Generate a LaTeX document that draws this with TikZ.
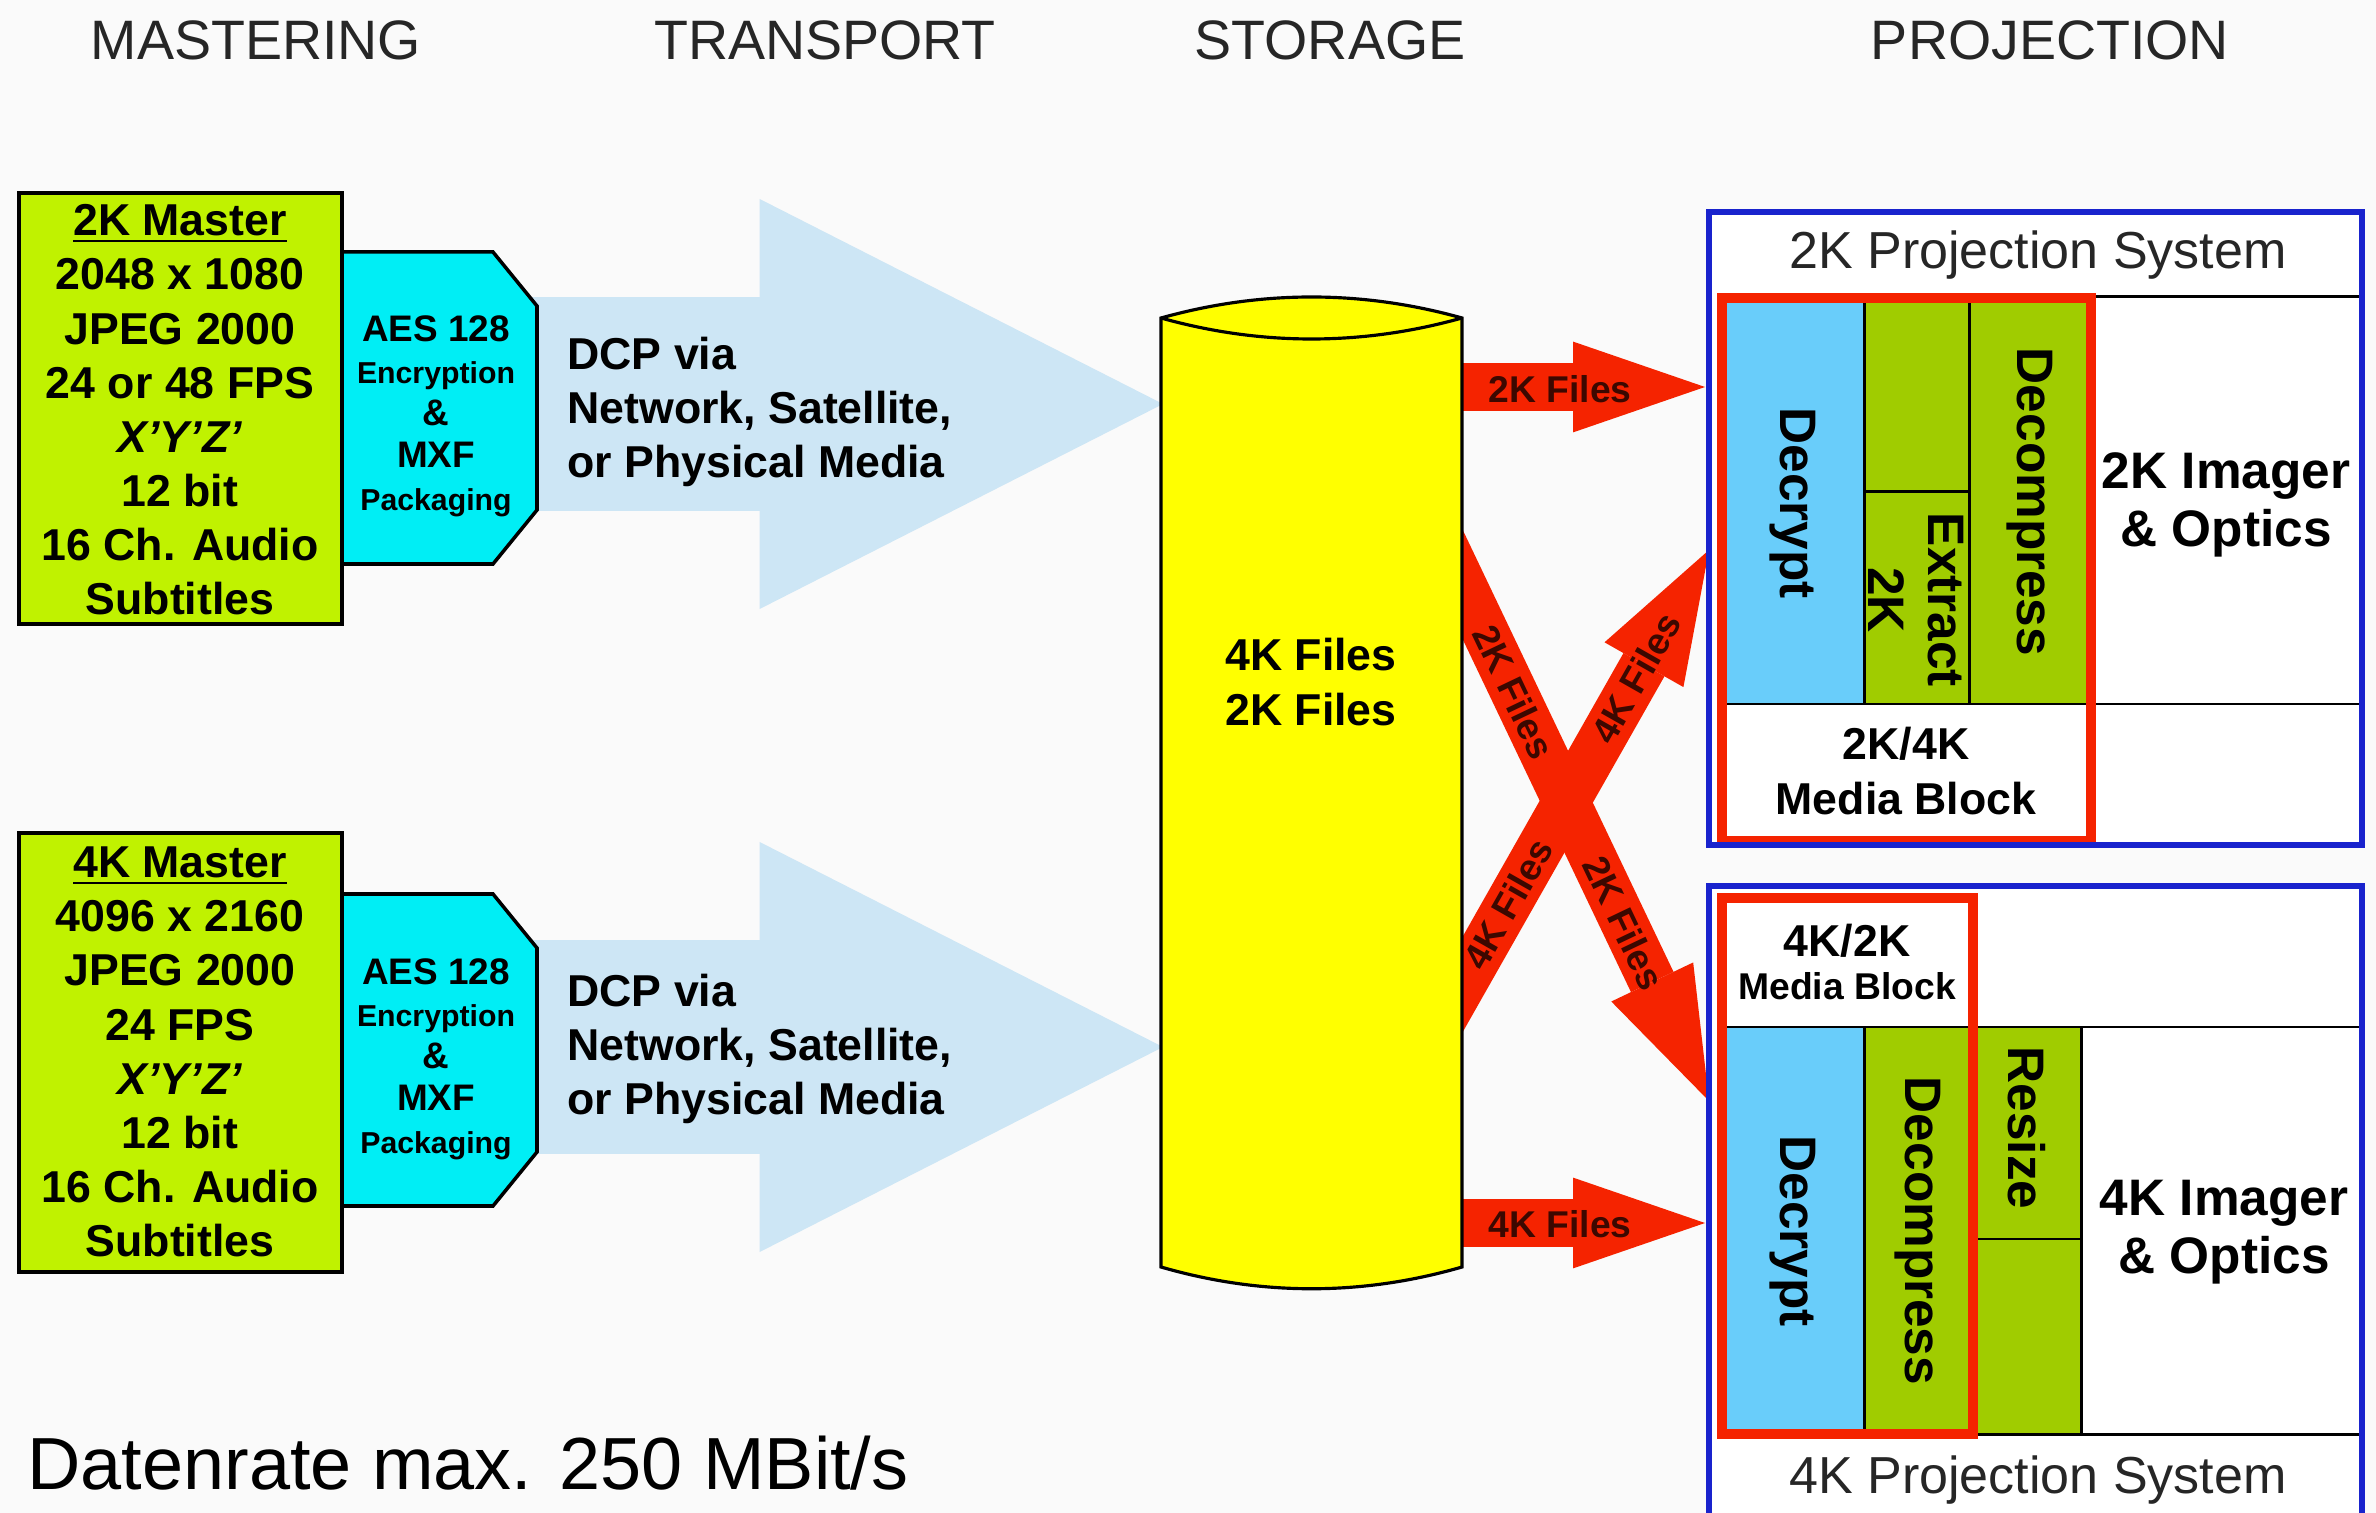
\documentclass[tikz,border=0pt]{standalone}
\usepackage{fontspec}
\setmainfont{Liberation Sans}
\usepackage{tikz}
\usepackage{xcolor}
\usetikzlibrary{arrows.meta}

\definecolor{bgwhite}{RGB}{250,250,250}
\definecolor{mastergreen}{RGB}{192,242,0}
\definecolor{aescyan}{RGB}{0,238,245}
\definecolor{dcpblue}{RGB}{205,230,245}
\definecolor{storeyellow}{RGB}{255,255,0}
\definecolor{filered}{RGB}{245,35,0}
\definecolor{decryptblue}{RGB}{105,205,250}
\definecolor{procgreen}{RGB}{160,204,0}
\definecolor{frameblue}{RGB}{25,35,205}
\definecolor{labeldark}{RGB}{60,8,0}

\begin{document}
\begin{tikzpicture}[x=0.01cm, y=-0.01cm,
    heading/.style={font=\fontsize{15.8}{19}\selectfont, text=black!85},
    boldtext/.style={font=\fontsize{12.7}{15.4}\selectfont\bfseries, align=center},
    aestext/.style={font=\fontsize{10.5}{12}\selectfont\bfseries, align=center},
    masterbox/.style={draw=black, line width=1.4pt, fill=mastergreen},
    aesbox/.style={draw=black, line width=1pt, fill=aescyan},
    dcparrow/.style={draw=dcpblue, line width=60.6pt,
        -{Triangle[length=114.7pt, width=116.6pt, line width'=0pt]}},
    filearrow/.style={draw=filered, line width=13.4pt,
        -{Triangle[length=37.5pt, width=25.8pt, line width'=0pt]}},
    filelabel/.style={font=\fontsize{10.6}{12}\selectfont\bfseries, text=labeldark},
    cell/.style={draw=black, line width=0.85pt},
    celltext/.style={font=\fontsize{14.6}{17}\selectfont\bfseries, rotate=-90, align=center},
    mediablock/.style={draw=filered, line width=3.1pt},
    projframe/.style={draw=frameblue, line width=1.8pt},
    systitle/.style={font=\fontsize{14.8}{17}\selectfont, text=black!85},
    imager/.style={font=\fontsize{14.6}{16.5}\selectfont\bfseries, align=center}]

\useasboundingbox (0,0) rectangle (2376,1513);
\fill[bgwhite] (0,0) rectangle (2376,1513);

% Column headings
\node[heading] (hmaster) at (256,40) {MASTERING};
\node[heading] (htransport) at (825,40) {TRANSPORT};
\node[heading] (hstorage) at (1330,40) {STORAGE};
\node[heading] (hprojection) at (2050,40) {PROJECTION};

% Transport: DCP arrows (drawn first, the boxes sit on top)
\coordinate (dcp2kstart) at (500,404);
\coordinate (dcp2kend) at (1163,404);
\coordinate (dcp4kstart) at (500,1047);
\coordinate (dcp4kend) at (1163,1047);
\draw[dcparrow] (dcp2kstart) -- (dcp2kend);
\draw[dcparrow] (dcp4kstart) -- (dcp4kend);

% Mastering: 2K master and packaging
\draw[aesbox] (342,252) -- (493,252) -- (537,306) -- (537,510) -- (493,564) -- (342,564) -- cycle;
\draw[masterbox] (19,193) rectangle (342,624);
\node[boldtext] (m2k) at (180,410) {\underline{2K Master}\\2048 x 1080\\JPEG 2000\\24 or 48 FPS\\\textit{X'Y'Z'}\\12 bit\\16 Ch. Audio\\Subtitles};
\node[aestext] (aes2k) at (436,416) {AES 128\\{\fontsize{8.6}{10}\selectfont Encryption}\\\&\\MXF\\{\fontsize{8.6}{10}\selectfont Packaging}};

% Mastering: 4K master and packaging
\draw[aesbox] (342,894) -- (493,894) -- (537,948) -- (537,1152) -- (493,1206) -- (342,1206) -- cycle;
\draw[masterbox] (19,833) rectangle (342,1272);
\node[boldtext] (m4k) at (180,1052) {\underline{4K Master}\\4096 x 2160\\JPEG 2000\\24 FPS\\\textit{X'Y'Z'}\\12 bit\\16 Ch. Audio\\Subtitles};
\node[aestext] (aes4k) at (436,1059) {AES 128\\{\fontsize{8.6}{10}\selectfont Encryption}\\\&\\MXF\\{\fontsize{8.6}{10}\selectfont Packaging}};

\node[boldtext, anchor=west, align=left] (dcp2k) at (555,412) {DCP via\\Network, Satellite,\\or Physical Media};
\node[boldtext, anchor=west, align=left] (dcp4k) at (555,1049) {DCP via\\Network, Satellite,\\or Physical Media};

% Storage to projection: file arrows
\coordinate (s2k) at (1400,387);
\coordinate (p2k) at (1705,387);
\coordinate (s4k) at (1400,1223);
\coordinate (p4k) at (1705,1223);
\coordinate (x2kstart) at (1388,428);
\coordinate (x2kend) at (1709,1101);
\coordinate (x4kstart) at (1388,1116);
\coordinate (x4kend) at (1709,550);
\draw[filearrow] (s2k) -- (p2k);
\draw[filearrow] (s4k) -- (p4k);
\draw[filearrow] (x2kstart) -- (x2kend);
\draw[filearrow] (x4kstart) -- (x4kend);

% Storage cylinder
\filldraw[fill=storeyellow, draw=black, line width=0.9pt]
    (1161,318) -- (1161,1267) .. controls (1261,1296) and (1362,1296) .. (1462,1267)
    -- (1462,318) .. controls (1362,290) and (1261,290) .. (1161,318) -- cycle;
\draw[line width=0.9pt] (1161,318) .. controls (1261,346) and (1362,346) .. (1462,318);
\node[boldtext] (store) at (1311,682) {4K Files\\2K Files};

% Labels on the file arrows
\node[filelabel] (l2k) at (1560,389) {2K Files};
\node[filelabel] (l4k) at (1560,1224) {4K Files};
\node[filelabel, rotate=-64.5] (lx2ka) at (1514,692) {2K Files};
\node[filelabel, rotate=-64.5] (lx2kb) at (1624,923) {2K Files};
\node[filelabel, rotate=60.4] (lx4ka) at (1636,678) {4K Files};
\node[filelabel, rotate=60.4] (lx4kb) at (1508,904) {4K Files};

% Projection: 2K system
\fill[white] (1709,212) rectangle (2362,845);
\draw[cell, fill=decryptblue] (1722,298) rectangle (1864,704);
\draw[cell, fill=procgreen] (1864,298) rectangle (1969,492);
\draw[cell, fill=procgreen] (1864,492) rectangle (1969,704);
\draw[cell, fill=procgreen] (1969,298) rectangle (2091,704);
\draw[cell] (2091,297) rectangle (2362,704);
\draw[mediablock] (1722,298) rectangle (2091,841);
\draw[projframe] (1709,212) rectangle (2362,845);
\node[systitle] (t2k) at (2038,255) {2K Projection System};
\node[celltext] (dec2k) at (1793,503) {Decrypt};
\node[celltext] (ext2k) at (1916,600) {Extract\\2K};
\node[celltext] (dcm2k) at (2030,502) {Decompress};
\node[boldtext] (mb2k) at (1906,771) {2K/4K\\Media Block};
\node[imager] (img2k) at (2226,505) {2K Imager\\\& Optics};

% Projection: 4K system
\fill[white] (1709,886) rectangle (2362,1530);
\draw[cell, fill=decryptblue] (1722,1027) rectangle (1864,1434);
\draw[cell, fill=procgreen] (1864,1027) rectangle (1973,1434);
\draw[cell, fill=procgreen] (1973,1027) rectangle (2081,1239);
\draw[cell, fill=procgreen] (1973,1239) rectangle (2081,1434);
\draw[cell] (2081,1027) rectangle (2362,1434);
\draw[mediablock] (1722,898) rectangle (1973,1434);
\draw[projframe] (1709,886) rectangle (2362,1530);
\node[boldtext] (mb4k) at (1847,941) {4K/2K};
\node[font=\fontsize{10.6}{12}\selectfont\bfseries] (mb4kb) at (1847,986) {Media Block};
\node[celltext] (dec4k) at (1793,1231) {Decrypt};
\node[celltext] (dcm4k) at (1918,1231) {Decompress};
\node[celltext] (rsz4k) at (2027,1128) {Resize};
\node[imager] (img4k) at (2224,1232) {4K Imager\\\& Optics};
\node[systitle] (t4k) at (2038,1480) {4K Projection System};

% Data rate note
\node[font=\fontsize{21}{25}\selectfont, anchor=base west] (rate) at (15,1489) {Datenrate max. 250 MBit/s};
\end{tikzpicture}
\end{document}
